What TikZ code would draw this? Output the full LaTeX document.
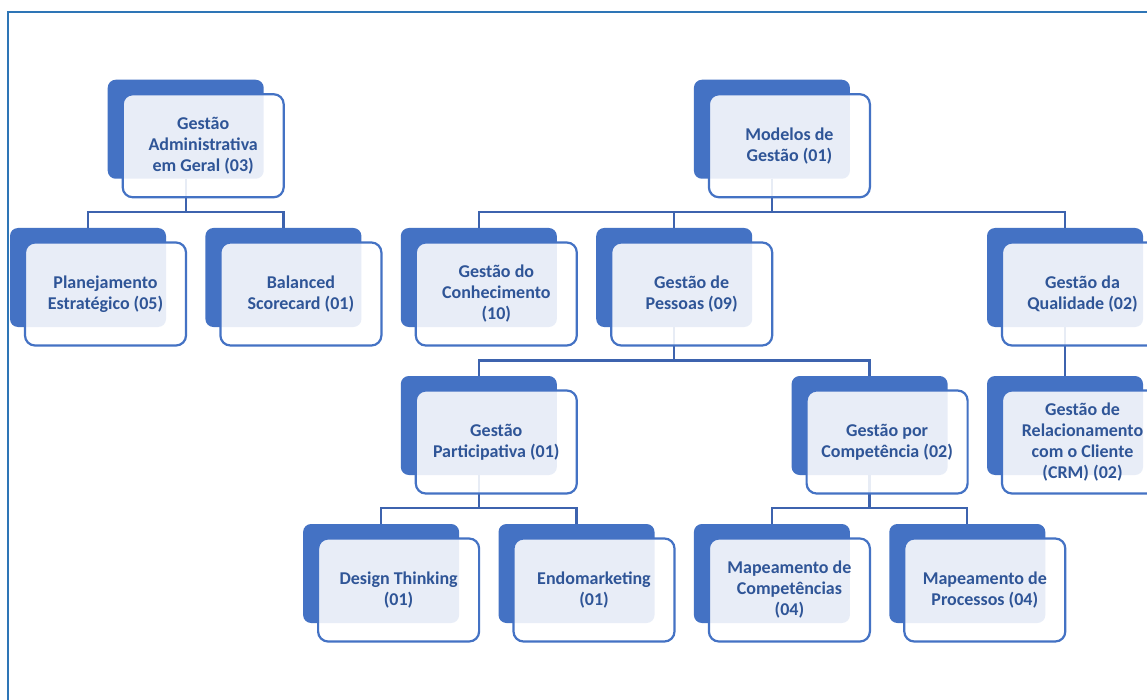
\documentclass[tikz,border=0pt]{standalone}
\usepackage{fontspec}
\setmainfont{Carlito}
\definecolor{accent}{HTML}{4472C4}
\definecolor{labelblue}{HTML}{2F5597}
\definecolor{linkblue}{HTML}{3D63AE}
\definecolor{frameblue}{HTML}{2E75B6}
\begin{document}
\begin{tikzpicture}[x=1pt,y=-1pt,
  back/.style={fill=accent, rounded corners=8pt, minimum width=156pt,
    minimum height=99pt, inner sep=0pt, outer sep=0pt},
  front/.style={draw=accent, line width=2.2pt, fill=white, fill opacity=0.88,
    text opacity=1, rounded corners=10pt, minimum width=161pt,
    minimum height=103pt, inner sep=0pt, outer sep=0pt, align=center,
    text=labelblue, font=\fontsize{18}{21}\selectfont\bfseries},
  link/.style={draw=linkblue, line width=2.3pt}]

% page area
\clip (0,0) rectangle (1147,700);
\fill[white] (0,0) rectangle (1147,700);
\draw[frameblue, line width=2pt] (7.5,720) -- (7.5,12) -- (1170,12);

% dark back panels
\node[back] (adm-b)  at (185.7,129.25) {};
\node[back] (mod-b)  at (771.9,129.25) {};
\node[back] (plan-b) at (88,277.5) {};
\node[back] (bal-b)  at (283.4,277.5) {};
\node[back] (con-b)  at (478.8,277.5) {};
\node[back] (pes-b)  at (674.2,277.5) {};
\node[back] (qual-b) at (1065,277.5) {};
\node[back] (part-b) at (478.8,425.5) {};
\node[back] (comp-b) at (869.6,425.5) {};
\node[back] (crm-b)  at (1065,425.5) {};
\node[back] (des-b)  at (381.1,573.5) {};
\node[back] (endo-b) at (576.5,573.5) {};
\node[back] (mapc-b) at (771.9,573.5) {};
\node[back] (mapp-b) at (967.3,573.5) {};

% hierarchy links
\draw[link] (adm-b.south) -- ++(0,33) -| (plan-b.north);
\draw[link] (adm-b.south) -- ++(0,33) -| (bal-b.north);
\draw[link] (mod-b.south) -- ++(0,33) -| (con-b.north);
\draw[link] (mod-b.south) -- ++(0,33) -| (pes-b.north);
\draw[link] (mod-b.south) -- ++(0,33) -| (qual-b.north);
\draw[link] (pes-b.south) -- ++(0,33.5) -| (part-b.north);
\draw[link] (pes-b.south) -- ++(0,33.5) -| (comp-b.north);
\draw[link] (qual-b.south) -- (crm-b.north);
\draw[link] (part-b.south) -- ++(0,33) -| (des-b.north);
\draw[link] (part-b.south) -- ++(0,33) -| (endo-b.north);
\draw[link] (comp-b.south) -- ++(0,33) -| (mapc-b.north);
\draw[link] (comp-b.south) -- ++(0,33) -| (mapp-b.north);

% translucent front cards with labels
\node[front] (adm)  at ([shift={(17.5,16.5)}]adm-b)  {Gestão\\Administrativa\\em Geral (03)};
\node[front] (mod)  at ([shift={(17.5,16.5)}]mod-b)  {Modelos de\\Gestão (01)};
\node[front] (plan) at ([shift={(17.5,16.5)}]plan-b) {Planejamento\\Estratégico (05)};
\node[front] (bal)  at ([shift={(17.5,16.5)}]bal-b)  {Balanced\\Scorecard (01)};
\node[front] (con)  at ([shift={(17.5,16.5)}]con-b)  {Gestão do\\Conhecimento\\(10)};
\node[front] (pes)  at ([shift={(17.5,16.5)}]pes-b)  {Gestão de\\Pessoas (09)};
\node[front] (qual) at ([shift={(17.5,16.5)}]qual-b) {Gestão da\\Qualidade (02)};
\node[front] (part) at ([shift={(17.5,16.5)}]part-b) {Gestão\\Participativa (01)};
\node[front] (comp) at ([shift={(17.5,16.5)}]comp-b) {Gestão por\\Competência (02)};
\node[front] (crm)  at ([shift={(17.5,16.5)}]crm-b)  {Gestão de\\Relacionamento\\com o Cliente\\(CRM) (02)};
\node[front] (des)  at ([shift={(17.5,16.5)}]des-b)  {Design Thinking\\(01)};
\node[front] (endo) at ([shift={(17.5,16.5)}]endo-b) {Endomarketing\\(01)};
\node[front] (mapc) at ([shift={(17.5,16.5)}]mapc-b) {Mapeamento de\\Competências\\(04)};
\node[front] (mapp) at ([shift={(17.5,16.5)}]mapp-b) {Mapeamento de\\Processos (04)};
\end{tikzpicture}
\end{document}
